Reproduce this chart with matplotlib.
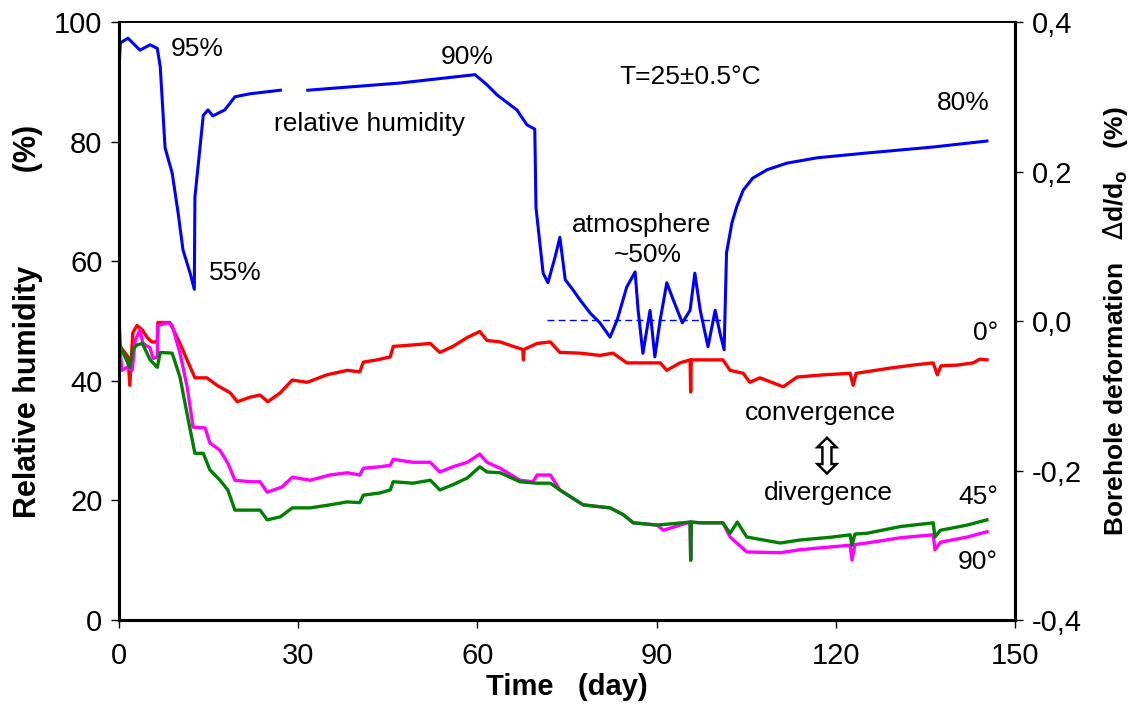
import numpy as np
import matplotlib
matplotlib.use("Agg")
import matplotlib.pyplot as plt

plt.rcParams['font.family'] = ['Liberation Sans', 'DejaVu Sans']

# relative humidity (%) vs time (day); NaN marks the gap in the record
rh_day = [0.0, 0.2, 1.5, 2.3, 3.5, 5.2, 6.4, 6.9, 7.7, 8.9, 9.9, 10.7, 11.9, 12.6,
          12.7, 14.1, 14.9, 15.7, 17.7, 19.4, 21.9, 27.0, 29.0, 31.6, 47.0, 59.6,
          61.6, 63.3, 66.6, 68.3, 69.6, 69.8, 71.0, 71.8, 73.0, 73.8, 74.7, 76.0,
          77.2, 78.9, 80.5, 82.2, 83.4, 85.0, 86.4, 86.9, 87.7, 88.9, 89.7, 90.6,
          91.7, 92.8, 94.3, 95.6, 96.4, 97.3, 98.6, 99.8, 100.6, 101.3, 101.7,
          102.6, 103.4, 104.5, 106.1, 108.5, 111.8, 116.9, 125.2, 136.3, 145.3]
rh_val = [92.0, 96.5, 97.3, 96.5, 95.3, 96.2, 95.6, 92.5, 79.0, 74.7, 68.0, 61.9, 58.0, 55.3,
          70.7, 84.4, 85.3, 84.3, 85.3, 87.5, 88.0, 88.6, np.nan, 88.6, 89.8, 91.2,
          89.5, 87.8, 85.3, 82.8, 82.1, 69.0, 58.0, 56.4, 60.7, 64.0, 56.9, 55.2,
          53.5, 51.3, 49.7, 47.3, 50.2, 55.7, 58.2, 51.8, 44.6, 51.8, 44.0, 50.2,
          56.4, 53.5, 49.7, 51.8, 58.0, 51.8, 45.7, 51.8, 48.0, 45.2, 61.4,
          66.4, 69.1, 71.9, 73.9, 75.3, 76.4, 77.3, 78.1, 79.1, 80.1]

# atmosphere level (dashed reference)
atm_day = [71.7, 101.1]
atm_val = [50.2, 50.2]

# borehole deformation (%) at 0 degrees
d0_day = [0.2, 1.5, 1.8, 2.3, 3.0, 3.9, 4.7, 5.5, 6.4, 6.5, 8.5, 10.2, 11.6, 12.7, 14.7,
          16.4, 18.6, 19.8, 21.9, 23.6, 24.9, 27.0, 29.0, 31.5, 34.8, 38.2, 40.3, 40.9,
          43.2, 45.4, 45.9, 49.2, 52.1, 53.7, 55.9, 58.3, 60.4, 61.6, 63.8, 66.0, 67.6,
          67.7, 67.8, 70.0, 72.2, 73.8, 77.2, 80.5, 82.7, 85.0, 87.2, 90.6, 91.7, 93.9,
          95.6, 95.7, 95.8, 98.4, 101.1, 102.3, 104.5, 105.6, 107.3, 111.2, 113.5,
          117.9, 122.4, 122.9, 123.4, 129.1, 132.9, 136.3, 137.0, 137.6, 140.3, 143.0,
          144.1, 145.3]
d0_val = [-0.034, -0.048, -0.086, -0.016, -0.006, -0.012, -0.022, -0.028, -0.028, -0.002,
          -0.002, -0.030, -0.056, -0.076, -0.076, -0.086, -0.096, -0.108, -0.102, -0.099,
          -0.108, -0.096, -0.079, -0.082, -0.072, -0.066, -0.068, -0.055, -0.052, -0.048,
          -0.034, -0.032, -0.030, -0.042, -0.034, -0.022, -0.014, -0.026, -0.028, -0.034,
          -0.038, -0.052, -0.038, -0.030, -0.028, -0.042, -0.043, -0.046, -0.043, -0.056,
          -0.056, -0.056, -0.066, -0.056, -0.052, -0.095, -0.052, -0.052, -0.052, -0.066,
          -0.070, -0.082, -0.076, -0.088, -0.075, -0.072, -0.070, -0.086, -0.070, -0.063,
          -0.059, -0.056, -0.072, -0.060, -0.059, -0.056, -0.051, -0.052]

# borehole deformation (%) at 90 degrees
d90_day = [0.2, 0.5, 1.3, 2.2, 2.7, 3.5, 4.0, 5.2, 5.7, 6.4, 6.5, 8.2, 8.9, 10.2, 11.4,
           12.4, 14.4, 15.2, 16.9, 18.2, 19.4, 21.9, 23.6, 24.8, 27.3, 29.0, 32.0, 35.3,
           38.2, 40.3, 40.9, 43.7, 45.4, 45.9, 49.2, 52.1, 53.7, 55.9, 58.3, 60.4, 61.6,
           63.8, 67.1, 69.3, 70.0, 72.2, 73.8, 77.7, 82.2, 84.4, 86.1, 90.1, 91.1, 95.6,
           95.7, 95.8, 97.3, 101.1, 102.3, 105.1, 110.7, 114.0, 119.5, 122.4, 122.7,
           123.2, 125.2, 130.8, 136.3, 136.6, 137.5, 142.0, 145.3]
d90_val = [-0.043, -0.066, -0.062, -0.066, -0.026, -0.012, -0.030, -0.036, -0.050, -0.048,
           -0.006, -0.002, -0.006, -0.043, -0.088, -0.142, -0.143, -0.163, -0.173, -0.190,
           -0.213, -0.215, -0.215, -0.229, -0.222, -0.209, -0.213, -0.206, -0.203, -0.206,
           -0.197, -0.195, -0.193, -0.185, -0.189, -0.189, -0.202, -0.195, -0.189, -0.178,
           -0.189, -0.197, -0.213, -0.215, -0.206, -0.206, -0.226, -0.246, -0.250, -0.259,
           -0.270, -0.273, -0.280, -0.269, -0.320, -0.269, -0.270, -0.270, -0.289, -0.309,
           -0.310, -0.306, -0.302, -0.300, -0.320, -0.299, -0.297, -0.290, -0.286, -0.306,
           -0.296, -0.289, -0.282]

# borehole deformation (%) at 45 degrees
d45_day = [0.0, 0.2, 1.8, 2.3, 3.0, 3.9, 5.2, 6.4, 6.9, 8.9, 10.2, 11.6, 12.7, 14.1, 15.2,
           16.9, 18.2, 19.4, 21.9, 23.6, 24.8, 27.0, 29.0, 32.0, 35.3, 38.2, 40.3, 40.9,
           43.7, 45.4, 45.9, 49.2, 52.1, 53.7, 55.9, 58.3, 60.4, 61.6, 63.8, 67.1, 70.0,
           72.2, 73.8, 77.7, 82.2, 84.4, 86.1, 90.1, 95.6, 95.7, 95.8, 97.3, 101.1, 102.3,
           103.5, 105.1, 110.7, 114.0, 119.5, 122.4, 122.7, 123.2, 125.2, 130.8, 136.3,
           136.6, 137.5, 142.0, 145.3]
d45_val = [0.002, -0.034, -0.062, -0.038, -0.032, -0.030, -0.052, -0.062, -0.042, -0.043,
           -0.075, -0.133, -0.177, -0.177, -0.199, -0.213, -0.226, -0.253, -0.253, -0.253,
           -0.266, -0.262, -0.250, -0.250, -0.246, -0.242, -0.243, -0.233, -0.230, -0.226,
           -0.215, -0.217, -0.213, -0.226, -0.219, -0.210, -0.195, -0.202, -0.203, -0.215,
           -0.217, -0.217, -0.226, -0.246, -0.250, -0.259, -0.270, -0.273, -0.269, -0.320,
           -0.269, -0.270, -0.270, -0.284, -0.269, -0.289, -0.297, -0.293, -0.289, -0.286,
           -0.300, -0.285, -0.284, -0.275, -0.270, -0.289, -0.280, -0.273, -0.266]

x_ticks = [0, 30, 60, 90, 120, 150]
rh_ticks = [0, 20, 40, 60, 80, 100]
def_ticks = [-0.4, -0.2, 0.0, 0.2, 0.4]
def_labels = ['-0,4', '-0,2', '0,0', '0,2', '0,4']

fig = plt.figure(figsize=(11.36, 7.11), dpi=100)
ax = fig.add_axes([0.1048, 0.128, 0.7887, 0.841])
ax2 = ax.twinx()

ax2.plot(d0_day, d0_val, color='#ff0000', lw=2.4)
ax2.plot(d90_day, d90_val, color='#ff00ff', lw=2.4)
ax2.plot(d45_day, d45_val, color='#008000', lw=2.4)
ax2.set_ylim(-0.4, 0.4)

ax.plot(rh_day, rh_val, color='#0000ff', lw=2.2)
ax.plot(atm_day, atm_val, color='#0000ff', lw=1.0, ls=(0, (5, 3)))
ax.set_zorder(ax2.get_zorder() + 1)
ax.patch.set_visible(False)

ax.set_xlim(0, 150)
ax.set_ylim(0, 100)
ax.set_xticks(x_ticks)
ax.set_yticks(rh_ticks)
ax2.set_yticks(def_ticks)
ax2.set_yticklabels(def_labels)

ax.tick_params(axis='x', labelsize=21, length=6, width=1, pad=10)
ax.tick_params(axis='y', labelsize=21, length=6, width=1, pad=6)
ax2.tick_params(axis='y', labelsize=21, length=6, width=1, pad=6)
for a in (ax, ax2):
    for side in ('left', 'right', 'bottom'):
        a.spines[side].set_linewidth(2.2)
    a.spines['top'].set_linewidth(1.2)

ax.set_xlabel('Time   (day)', fontsize=21, fontweight='bold', labelpad=2)
ax.set_ylabel('Relative humidity           (%)', fontsize=22, fontweight='bold', labelpad=8)
ax2.set_ylabel(r'Borehole deformation   $\Delta$d/d$_\mathregular{o}$   (%)',
               fontsize=19, fontweight='bold', labelpad=14)

txt = dict(fontsize=19, ha='center', va='center')
ax.text(13.1, 95.5, '95%', **txt)
ax.text(19.4, 58.0, '55%', **txt)
ax.text(42.0, 83.0, 'relative humidity', **txt)
ax.text(58.3, 94.1, '90%', **txt)
ax.text(95.6, 90.8, 'T=25±0.5°C', **txt)
ax.text(141.3, 86.5, '80%', **txt)
ax.text(87.5, 66.0, 'atmosphere', **txt)
ax.text(88.5, 61.0, '~50%', **txt)
ax.text(145.0, 48.0, '0°', **txt)
ax.text(117.4, 34.6, 'convergence', **txt)
ax.text(118.8, 21.2, 'divergence', **txt)
ax.text(143.8, 20.6, '45°', **txt)
ax.text(143.8, 9.7, '90°', **txt)
# open double arrow between "convergence" and "divergence"
ax.text(118.5, 26.6, '\u21f3', fontsize=36, ha='center', va='center',
        family='DejaVu Sans')

fig.savefig('out.png', dpi=100)
